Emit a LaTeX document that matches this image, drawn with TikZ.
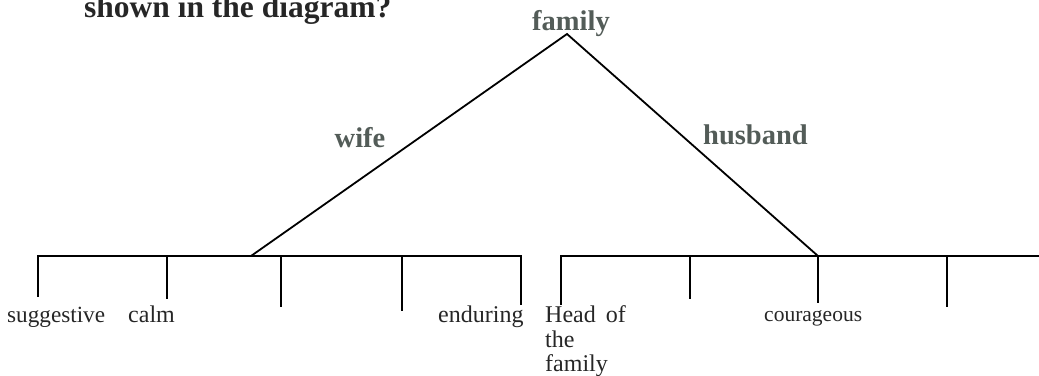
\documentclass[tikz,border=0pt]{standalone}
\usepackage{fontspec}
\setmainfont{Liberation Serif}
\usepackage{xcolor}
\definecolor{lblgray}{HTML}{535C58}
\definecolor{ink}{HTML}{262626}
\begin{document}
\begin{tikzpicture}[x=1pt,y=-1pt,
  branch/.style={line width=1.8pt,black,line cap=butt},
  lbl/.style={inner sep=0pt,anchor=base west,text=ink,font=\fontsize{24}{25}\selectfont},
  glabel/.style={inner sep=0pt,anchor=base,text=lblgray,font=\fontsize{28.5}{30}\selectfont\bfseries}]
\useasboundingbox (0,0) rectangle (1039,375);
% title (cut off at the top edge)
\node[inner sep=0pt,anchor=base west,text=ink,font=\fontsize{31.5}{34}\selectfont\bfseries] (title) at (84,17) {shown in the diagram?};
% apex
\coordinate (apex) at (567,34);
\node[glabel] (family) at (571,30) {family};
% left bar
\coordinate (L0) at (38,256);
\coordinate (LJ) at (251,256);
\coordinate (L5) at (521,256);
\coordinate (t1) at (38,256);   \coordinate (e1) at (38,297);
\coordinate (t2) at (167,256);  \coordinate (e2) at (167,299);
\coordinate (t3) at (281,256);  \coordinate (e3) at (281,307);
\coordinate (t4) at (402,256);  \coordinate (e4) at (402,311);
\coordinate (t5) at (521,256);  \coordinate (e5) at (521,305);
% right bar
\coordinate (R0) at (561,256);
\coordinate (RJ) at (818,256);
\coordinate (R5) at (1039,256);
\coordinate (u1) at (561,256);  \coordinate (f1) at (561,305);
\coordinate (u2) at (690,256);  \coordinate (f2) at (690,299);
\coordinate (u3) at (818,256);  \coordinate (f3) at (818,303);
\coordinate (u4) at (947,256);  \coordinate (f4) at (947,307);
% triangle branches
\draw[branch,line join=miter] (LJ) -- (apex) -- (RJ);
\node[glabel] (wife) at (360,147) {wife};
\node[glabel] (husband) at (755.5,144) {husband};
% bars
\draw[branch] ([xshift=-0.9pt]L0) -- ([xshift=0.9pt]L5);
\draw[branch] ([xshift=-0.9pt]R0) -- (R5);
\foreach \a/\b in {t1/e1,t2/e2,t3/e3,t4/e4,t5/e5,u1/f1,u2/f2,u3/f3,u4/f4}
  \draw[branch] (\a) -- (\b);
% labels
\node[lbl,font=\fontsize{23.2}{25}\selectfont] (suggestive) at (7,322) {suggestive};
\node[lbl] (calm) at (128,322) {calm};
\node[lbl] (enduring) at (438,322) {enduring};
\node[lbl] (head) at (545,322) {Head\hspace{10pt}of};
\node[lbl] (the) at (545,347) {the};
\node[lbl] (fam2) at (545,371) {family};
\node[lbl,font=\fontsize{21.5}{24}\selectfont] (courageous) at (764,321) {courageous};
\end{tikzpicture}
\end{document}
